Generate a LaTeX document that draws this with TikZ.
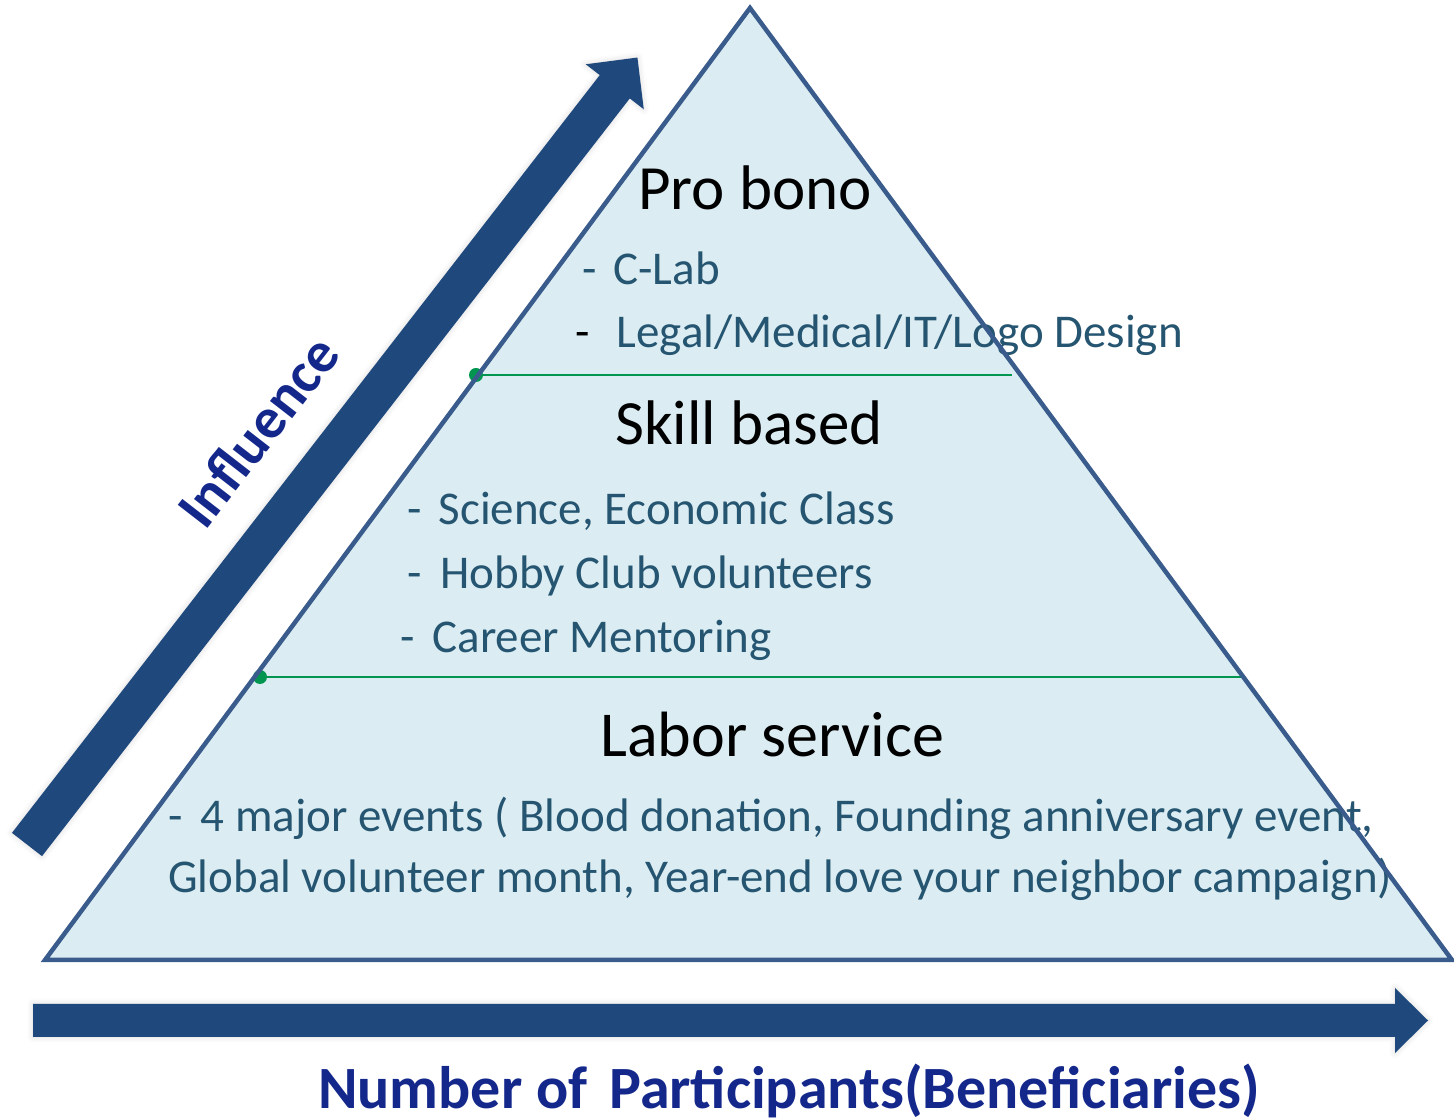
\documentclass[tikz,border=0pt]{standalone}
\usepackage{fontspec}
\setmainfont{Carlito}
\usetikzlibrary{shadows.blur}

\definecolor{pyrfill}{RGB}{219,237,243}
\definecolor{pyrline}{RGB}{58,92,140}
\definecolor{arrowblue}{RGB}{31,73,125}
\definecolor{tiergreen}{RGB}{0,150,80}
\definecolor{itemtext}{RGB}{37,85,112}
\definecolor{labelblue}{RGB}{20,40,140}

\begin{document}
\begin{tikzpicture}[x=1pt,y=1pt,
  tiertitle/.style={anchor=base west, inner sep=0pt, text=black},
  tieritem/.style={anchor=base west, inner sep=0pt, text=itemtext,
    font=\fontsize{47}{47}\selectfont},
  fatarrow/.style={fill=arrowblue, draw=none,
    blur shadow={shadow xshift=0pt, shadow yshift=0pt,
      shadow blur radius=6pt, shadow opacity=15}},
  divider/.style={draw=tiergreen, line width=2.5pt},
  tierdot/.style={circle, fill=tiergreen, inner sep=0pt, minimum size=14pt},
  axislabel/.style={text=labelblue, inner sep=0pt}]
\useasboundingbox (0,0) rectangle (1454,1119);

% pyramid corners
\coordinate (apex) at (750,1111);
\coordinate (bl) at (45,159);
\coordinate (br) at (1452,159);

% pyramid body
\fill[pyrfill] (apex) -- (br) -- (bl) -- cycle;

% tier dividers
\coordinate (d1l) at (476,744);
\coordinate (d1r) at (1012,744);
\coordinate (d2l) at (260,442);
\coordinate (d2r) at (1245,442);
\draw[divider] (d1l) -- (d1r);
\draw[divider] (d2l) -- (d2r);
\node[tierdot] (dot1) at (d1l) {};
\node[tierdot] (dot2) at (d2l) {};

% tier headings and items
\node[tiertitle, font=\fontsize{63}{63}\selectfont] (probono) at (638,909) {Pro bono};
\node[tieritem] (clab) at (582,834) {-\hspace{17pt}C-Lab};
\node[tieritem] (legal) at (575,771) {{\color{black}-}\hspace{27pt}Legal/Medical/IT/Logo Design};

\node[tiertitle, font=\fontsize{63}{63}\selectfont] (skill) at (615,674) {Skill based};
\node[tieritem] (science) at (407,594) {-\hspace{17pt}Science, Economic Class};
\node[tieritem] (hobby) at (407,530) {-\hspace{19pt}Hobby Club volunteers};
\node[tieritem] (career) at (400,466) {-\hspace{18pt}Career Mentoring};

\node[tiertitle, font=\fontsize{64}{64}\selectfont] (labor) at (600,362) {Labor service};
\node[tieritem] (events) at (168,287) {-\hspace{18pt}4 major events ( Blood donation, Founding anniversary event,};
\node[tieritem] (events2) at (168,226) {Global volunteer month, Year-end love your neighbor campaign)};

% pyramid outline on top of the text
\draw[pyrline, line width=4.5pt, line join=miter] (apex) -- (br) -- (bl) -- cycle;

% influence arrow
\begin{scope}[shift={(27,274.5)}, rotate=52.2]
  \path[fatarrow] (0,-19) -- (959,-19) -- (959,-36.7) -- (996,0)
    -- (959,36.7) -- (959,19) -- (0,19) -- cycle;
\end{scope}
\node[axislabel, rotate=52.2, font=\bfseries\fontsize{58}{58}\selectfont] (ylabel) at (258,688) {Influence};

% participants arrow
\path[fatarrow] (33,82) -- (1395,82) -- (1395,66) -- (1428,98.5)
  -- (1395,131) -- (1395,115) -- (33,115) -- cycle;
\node[axislabel, anchor=base west, font=\bfseries\fontsize{60}{60}\selectfont] (xlabel) at (318,10) {Number of\hspace{22pt}Participants(Beneficiaries)};
\end{tikzpicture}
\end{document}
